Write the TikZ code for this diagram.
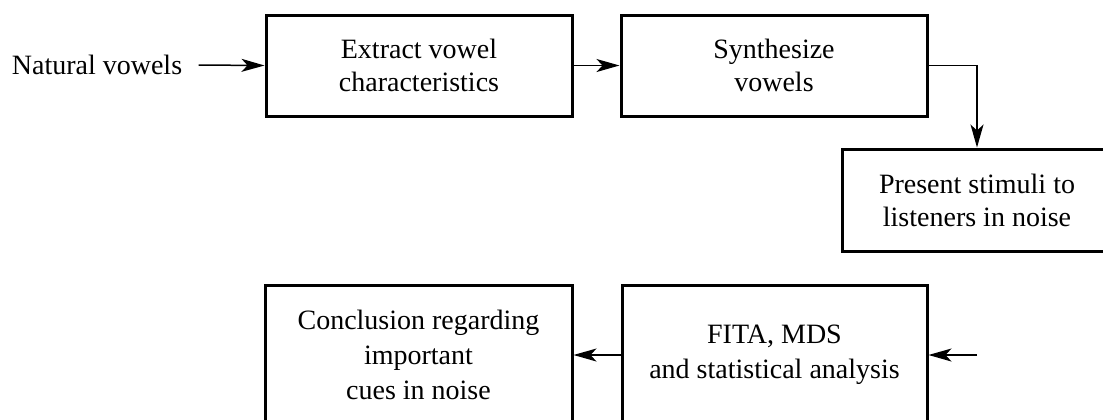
\documentclass[tikz,border=0pt]{standalone}
\usepackage{fontspec}
\setmainfont{Liberation Serif}
\usetikzlibrary{arrows.meta}

\tikzset{
  stepbox/.style={draw, line width=1.5pt, rectangle, align=center, inner sep=0pt,
    font=\fontsize{14pt}{16.5pt}\selectfont},
  tallbox/.style={stepbox, font=\fontsize{14pt}{17.5pt}\selectfont},
  flow/.style={line width=0.75pt, -{Stealth[length=11.5pt, width=6.5pt, inset=3pt]}},
  plain/.style={font=\fontsize{14pt}{16.5pt}\selectfont, inner ysep=0pt, inner xsep=8pt}
}

\begin{document}
\begin{tikzpicture}[x=0.5pt, y=-0.5pt]
  \useasboundingbox (0,0) rectangle (1103,419);
  \begin{scope}
    \clip (0,0) rectangle (1103,419);

    % input label
    \node[plain] (nat) at (97,65) {Natural vowels};

    % upper row
    \node[stepbox, minimum width=153pt, minimum height=50.5pt] (extract) at (419,65.5)
      {Extract vowel\\characteristics};
    \node[stepbox, minimum width=153pt, minimum height=50.5pt] (synth) at (774,65.5)
      {Synthesize\\vowels};
    \node[stepbox, minimum width=135pt, minimum height=51pt] (present) at (977,200)
      {Present stimuli to\\listeners in noise};

    % lower row
    \node[tallbox, minimum width=153.5pt, minimum height=70pt] (concl) at (418.5,355)
      {Conclusion regarding\\important\\cues in noise};
    \node[tallbox, minimum width=152.5pt, minimum height=70pt] (fita) at (774.5,355)
      {FITA, MDS\\and statistical analysis};

    \coordinate (feed) at (977,355);

    % connectors
    \draw[flow] (nat.east) -- (extract.west);
    \draw[flow] (extract.east) -- (synth.west);
    \draw[flow] (synth.east) -| (present.north);
    \draw[flow] (feed) -- (fita.east);
    \draw[flow] (fita.west) -- (concl.east);
  \end{scope}
\end{tikzpicture}
\end{document}
